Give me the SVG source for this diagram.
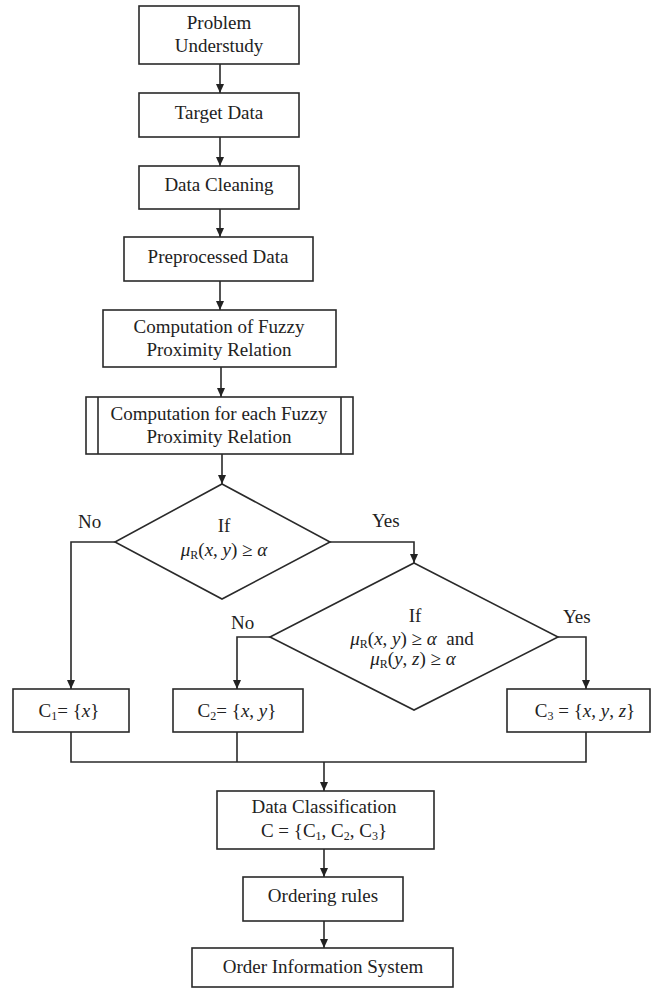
<svg xmlns="http://www.w3.org/2000/svg" width="657" height="990" viewBox="0 0 657 990">
<style>
  .box{fill:#fff;stroke:#2a2a2a;stroke-width:1.6}
  .ln{fill:none;stroke:#2a2a2a;stroke-width:1.6}
  text{font-family:"Liberation Serif","Times New Roman",serif;font-size:19px;fill:#222}
  .c{text-anchor:middle}
  .i{font-style:italic}
  .sub{font-size:12px}
</style>
<defs>
  <marker id="ah" markerUnits="userSpaceOnUse" markerWidth="9" markerHeight="8" refX="9" refY="4" orient="auto">
    <path d="M0,0 L9,4 L0,8 z" fill="#222"/>
  </marker>
</defs>
<rect width="657" height="990" fill="#fff"/>

<g id="connectors">
  <line class="ln" x1="220" y1="64" x2="220" y2="93" marker-end="url(#ah)"/>
  <line class="ln" x1="220" y1="137" x2="220" y2="166" marker-end="url(#ah)"/>
  <line class="ln" x1="220" y1="209" x2="220" y2="237" marker-end="url(#ah)"/>
  <line class="ln" x1="220" y1="281" x2="220" y2="310" marker-end="url(#ah)"/>
  <line class="ln" x1="221" y1="367" x2="221" y2="397" marker-end="url(#ah)"/>
  <line class="ln" x1="222" y1="454" x2="222" y2="484" marker-end="url(#ah)"/>
  <polyline class="ln" points="115,542 71,542 71,689" marker-end="url(#ah)"/>
  <polyline class="ln" points="330,542 414,542 414,563" marker-end="url(#ah)"/>
  <polyline class="ln" points="270,637 237,637 237,689" marker-end="url(#ah)"/>
  <polyline class="ln" points="558,637 586,637 586,689" marker-end="url(#ah)"/>
  <polyline class="ln" points="71,732 71,762 586,762 586,732"/>
  <line class="ln" x1="237" y1="732" x2="237" y2="762"/>
  <line class="ln" x1="324" y1="762" x2="324" y2="791" marker-end="url(#ah)"/>
  <line class="ln" x1="324" y1="849" x2="324" y2="877" marker-end="url(#ah)"/>
  <line class="ln" x1="324" y1="921" x2="324" y2="948" marker-end="url(#ah)"/>
  <text x="78" y="528">No</text>
  <text x="372" y="527">Yes</text>
  <text x="231" y="629">No</text>
  <text x="563" y="623">Yes</text>
</g>

<g id="problem">
  <rect class="box" x="139" y="6" width="160" height="58"/>
  <text class="c" x="219" y="29">Problem</text>
  <text class="c" x="219" y="52">Understudy</text>
</g>
<g id="target">
  <rect class="box" x="139" y="93" width="160" height="44"/>
  <text class="c" x="219" y="119">Target Data</text>
</g>
<g id="cleaning">
  <rect class="box" x="139" y="166" width="160" height="43"/>
  <text class="c" x="219" y="191">Data Cleaning</text>
</g>
<g id="preprocessed">
  <rect class="box" x="124" y="237" width="189" height="44"/>
  <text class="c" x="218" y="263">Preprocessed Data</text>
</g>
<g id="computation">
  <rect class="box" x="103" y="310" width="233" height="57"/>
  <text class="c" x="219" y="333">Computation of Fuzzy</text>
  <text class="c" x="219" y="356">Proximity Relation</text>
</g>
<g id="computation-each">
  <rect class="box" x="86" y="397" width="267" height="57"/>
  <line class="ln" x1="98" y1="397" x2="98" y2="454"/>
  <line class="ln" x1="341" y1="397" x2="341" y2="454"/>
  <text class="c" x="219" y="420">Computation for each Fuzzy</text>
  <text class="c" x="219" y="443">Proximity Relation</text>
</g>
<g id="decision1">
  <polygon class="box" points="222,484 330,542 222,599 115,542"/>
  <text class="c" x="224" y="532">If</text>
  <text class="c" x="224" y="556"><tspan class="i">μ</tspan><tspan class="sub" dy="3">R</tspan><tspan dy="-3">(</tspan><tspan class="i">x</tspan>, <tspan class="i">y</tspan>) ≥ <tspan class="i">α</tspan></text>
</g>
<g id="decision2">
  <polygon class="box" points="414,563 558,637 414,710 270,637"/>
  <text class="c" x="415" y="622">If</text>
  <text class="c" x="412" y="645"><tspan class="i">μ</tspan><tspan class="sub" dy="3">R</tspan><tspan dy="-3">(</tspan><tspan class="i">x</tspan>, <tspan class="i">y</tspan>) ≥ <tspan class="i">α</tspan>&#160; and</text>
  <text class="c" x="413" y="665"><tspan class="i">μ</tspan><tspan class="sub" dy="3">R</tspan><tspan dy="-3">(</tspan><tspan class="i">y</tspan>, <tspan class="i">z</tspan>) ≥ <tspan class="i">α</tspan></text>
</g>
<g id="c1">
  <rect class="box" x="13" y="689" width="116" height="43"/>
  <text class="c" x="69" y="717">C<tspan class="sub" dy="3">1</tspan><tspan dy="-3">= {</tspan><tspan class="i">x</tspan>}</text>
</g>
<g id="c2">
  <rect class="box" x="173" y="689" width="130" height="43"/>
  <text class="c" x="237" y="717">C<tspan class="sub" dy="3">2</tspan><tspan dy="-3">= {</tspan><tspan class="i">x</tspan>, <tspan class="i">y</tspan>}</text>
</g>
<g id="c3">
  <rect class="box" x="507" y="689" width="143" height="43"/>
  <text class="c" x="585" y="717">C<tspan class="sub" dy="3">3</tspan><tspan dy="-3"> = {</tspan><tspan class="i">x</tspan>, <tspan class="i">y</tspan>, <tspan class="i">z</tspan>}</text>
</g>
<g id="classification">
  <rect class="box" x="217" y="791" width="217" height="58"/>
  <text class="c" x="324" y="813">Data Classification</text>
  <text class="c" x="324" y="837">C = {C<tspan class="sub" dy="3">1</tspan><tspan dy="-3">, C</tspan><tspan class="sub" dy="3">2</tspan><tspan dy="-3">, C</tspan><tspan class="sub" dy="3">3</tspan><tspan dy="-3">}</tspan></text>
</g>
<g id="ordering">
  <rect class="box" x="243" y="877" width="160" height="44"/>
  <text class="c" x="323" y="902">Ordering rules</text>
</g>
<g id="order-info">
  <rect class="box" x="192" y="948" width="261" height="39"/>
  <text class="c" x="323" y="973">Order Information System</text>
</g>
</svg>
